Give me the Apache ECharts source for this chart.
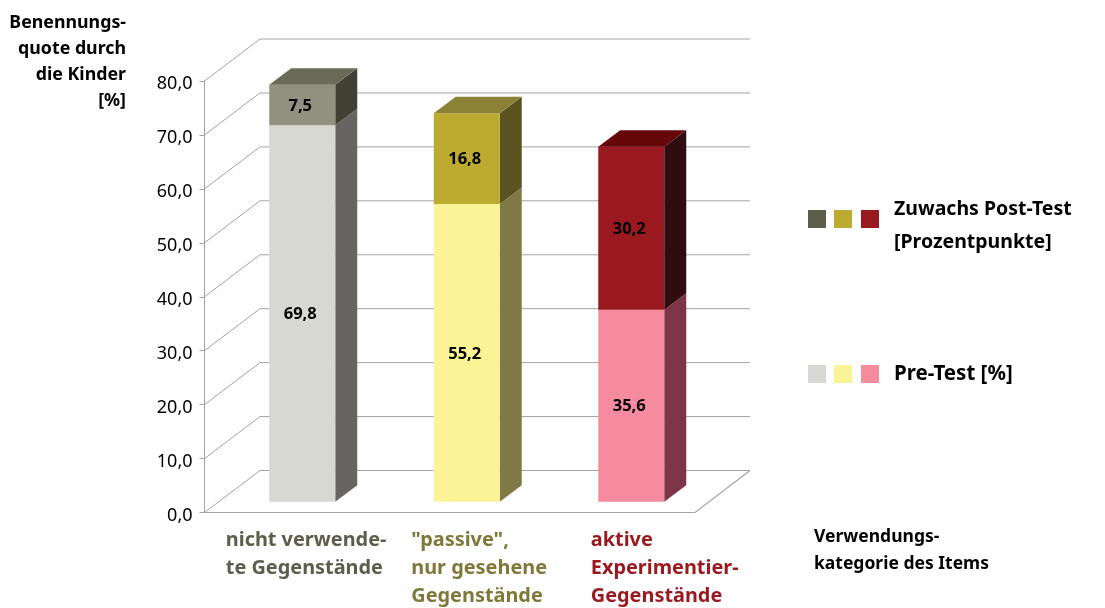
<!DOCTYPE html>
<html>
<head>
<meta charset="utf-8">
<style>html,body{margin:0;padding:0;background:#fff}#c{width:1105px;height:608px}</style>
<script src="https://cdn.jsdelivr.net/npm/echarts@6/dist/echarts.min.js"></script>
</head>
<body>
<div id="c"></div>
<script>
const categories = ['nicht verwende-\nte Gegenstände', '"passive",\nnur gesehene\nGegenstände', 'aktive\nExperimentier-\nGegenstände'];
const preTest = [69.8, 55.2, 35.6];
const zuwachs = [7.5, 16.8, 30.2];
const yTicks = [0, 10, 20, 30, 40, 50, 60, 70, 80];
const seriesNames = ['Pre-Test [%]', 'Zuwachs Post-Test\n[Prozentpunkte]'];
const yTitle = 'Benennungs-\nquote durch\ndie Kinder\n[%]';
const xTitle = 'Verwendungs-\nkategorie des Items';

const preColors = [
  {front:'#D7D8D2', side:'#666561'},
  {front:'#FBF496', side:'#7F7A45'},
  {front:'#F68A9E', side:'#7D3648'}
];
const incColors = [
  {front:'#90917E', side:'#404033', top:'#696A57', swatch:'#5C5D4B'},
  {front:'#BDAA30', side:'#5B5320', top:'#8B8235', swatch:'#BDAA30'},
  {front:'#99191E', side:'#300C10', top:'#660709', swatch:'#99191E'}
];
const labelColors = ['#5C5D4B', '#7F7839', '#99191E'];
const labelShift = [-60, -39, -24];

const FONT = '"Noto Sans", "Open Sans", sans-serif';
const WALL = '#A3A3A3';
const WALL_DX = 55.5, WALL_DY = 42, WALL_RIGHT = 750, AXIS_LEFT = 204.5, FLOOR_RIGHT = 695;
const BAR_W = 66, BAR_OFF_X = 16.5, BAR_OFF_Y = 10.8, D_X = 22, D_Y = 16.5;

function wallItem(params, api) {
  const y = api.coord([0, api.value(0)])[1];
  const children = [{
    type: 'polyline',
    shape: {points: [[AXIS_LEFT, y], [AXIS_LEFT + WALL_DX, y - WALL_DY], [WALL_RIGHT, y - WALL_DY]]},
    style: {stroke: WALL, lineWidth: 1, fill: null}
  }];
  if (api.value(0) === 0) {
    children.push({
      type: 'polyline',
      shape: {points: [[AXIS_LEFT, y], [FLOOR_RIGHT, y], [WALL_RIGHT, y - WALL_DY]]},
      style: {stroke: WALL, lineWidth: 1.2, fill: null}
    });
  }
  return {type: 'group', children};
}

function barItem(colors, withTop) {
  return function (params, api) {
    const i = api.value(0);
    const base = api.coord([i, api.value(1)]);
    const end = api.coord([i, api.value(2)]);
    const x0 = base[0] + BAR_OFF_X - BAR_W / 2, x1 = x0 + BAR_W;
    const yb = base[1] - BAR_OFF_Y, yt = end[1] - BAR_OFF_Y;
    const c = colors[i];
    const children = [
      {type: 'polygon', shape: {points: [[x1, yb], [x1 + D_X, yb - D_Y], [x1 + D_X, yt - D_Y], [x1, yt]]}, style: {fill: c.side}},
      {type: 'rect', shape: {x: x0, y: yt, width: BAR_W, height: yb - yt}, style: {fill: c.front}}
    ];
    if (withTop) {
      children.push({type: 'polygon', shape: {points: [[x0, yt], [x0 + D_X, yt - D_Y], [x1 + D_X, yt - D_Y], [x1, yt]]}, style: {fill: c.top}});
    }
    children.push({
      type: 'text',
      style: {
        text: (api.value(2) - api.value(1)).toFixed(1).replace('.', ','),
        x: (x0 + x1) / 2 - 2, y: (yb + yt) / 2 + 1,
        textAlign: 'center', textVerticalAlign: 'middle',
        fill: '#000', font: 'bold 16.5px ' + FONT
      }
    });
    return {type: 'group', children};
  };
}

function catLabelItem(params, api) {
  const i = api.value(0);
  const p = api.coord([i, 0]);
  return {
    type: 'text',
    style: {
      text: categories[i],
      x: p[0] + labelShift[i], y: p[1] + 14,
      textAlign: 'left', textVerticalAlign: 'top',
      fill: labelColors[i], font: 'bold 19.9px ' + FONT, lineHeight: 28
    }
  };
}

const legendGraphics = [];
function swatches(colors, y) {
  [808, 834, 861].forEach((x, k) => legendGraphics.push({
    type: 'rect', left: x, top: y, shape: {width: 18, height: 18}, style: {fill: colors[k]}
  }));
}
swatches(incColors.map(c => c.swatch), 210);
swatches(preColors.map(c => c.front), 365);
legendGraphics.push(
  {type: 'text', left: 894, top: 193, style: {text: seriesNames[1], fill: '#000', font: 'bold 19.5px ' + FONT, lineHeight: 33}},
  {type: 'text', left: 894, top: 364, style: {text: seriesNames[0], fill: '#000', font: 'bold 20.5px ' + FONT}},
  {type: 'text', right: 979, top: 10, style: {text: yTitle, fill: '#000', textAlign: 'right', font: 'bold 17.8px ' + FONT, lineHeight: 26}},
  {type: 'text', left: 814, top: 524, style: {text: xTitle, fill: '#000', font: 'bold 17.5px ' + FONT, lineHeight: 27}}
);

const chart = echarts.init(document.getElementById('c'), null, {renderer: 'canvas'});
chart.setOption({
  animation: false,
  backgroundColor: '#fff',
  grid: {left: 203.5, right: 408, top: 81, bottom: 95.5},
  xAxis: {
    type: 'category',
    data: categories,
    axisLine: {show: false},
    axisTick: {show: false},
    axisLabel: {show: false},
    splitLine: {show: false}
  },
  yAxis: {
    type: 'value',
    min: 0, max: 80, interval: 10,
    offset: -1,
    axisLine: {show: true, lineStyle: {color: WALL, width: 1}},
    axisTick: {show: true, length: 5, lineStyle: {color: WALL}},
    splitLine: {show: false},
    axisLabel: {
      color: '#000', fontFamily: FONT, fontSize: 18, margin: 12,
      formatter: v => '{a|' + v.toFixed(1).replace('.', ',') + '}',
      rich: {a: {color: '#000', fontFamily: FONT, fontSize: 18, padding: [6, 0, 0, 0]}}
    }
  },
  graphic: legendGraphics,
  series: [
    {name: 'Wand', type: 'custom', silent: true, z: 1, renderItem: wallItem,
     data: yTicks.map(v => [v]), encode: {y: 0}, clip: false},
    {name: seriesNames[0], type: 'custom', z: 2, renderItem: barItem(preColors, false),
     data: preTest.map((v, i) => [i, 0, v]), encode: {x: 0, y: 2}, clip: false},
    {name: seriesNames[1], type: 'custom', z: 3, renderItem: barItem(incColors, true),
     data: zuwachs.map((v, i) => [i, preTest[i], preTest[i] + v]), encode: {x: 0, y: 2}, clip: false},
    {name: 'Kategorien', type: 'custom', silent: true, z: 4, renderItem: catLabelItem,
     data: categories.map((c, i) => [i]), encode: {x: 0}, clip: false}
  ]
});
</script>
</body>
</html>
